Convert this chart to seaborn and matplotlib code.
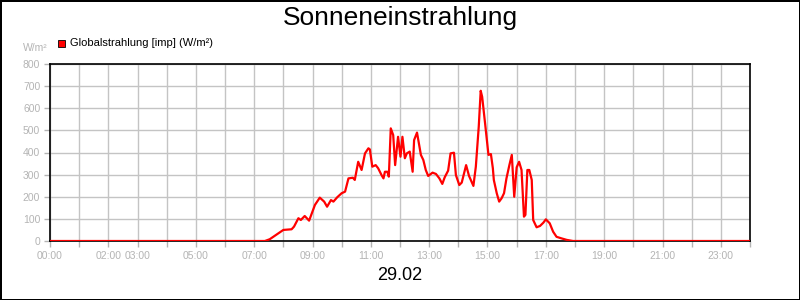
import matplotlib
matplotlib.use("Agg")
import matplotlib.pyplot as plt
import seaborn as sns
import pandas as pd
from matplotlib.patches import Rectangle

times = ["00:00", "07:22", "07:32", "08:00", "08:17", "08:22", "08:31", "08:36", "08:44", "08:53",
         "09:05", "09:15", "09:24", "09:30", "09:38", "09:43", "09:51", "10:00", "10:07", "10:14",
         "10:23", "10:27", "10:34", "10:41", "10:48", "10:55", "10:58", "11:03", "11:10", "11:15",
         "11:22", "11:26", "11:29", "11:34", "11:37", "11:41", "11:46", "11:50", "11:56", "12:01",
         "12:05", "12:10", "12:14", "12:20", "12:26", "12:29", "12:35", "12:43", "12:48", "12:53",
         "12:58", "13:07", "13:14", "13:21", "13:27", "13:32", "13:39", "13:44", "13:51", "13:55",
         "14:02", "14:07", "14:16", "14:22", "14:31", "14:36", "14:42", "14:46", "14:49", "14:55",
         "15:02", "15:07", "15:11", "15:13", "15:19", "15:24", "15:29", "15:34", "15:39", "15:45",
         "15:50", "15:55", "16:00", "16:05", "16:10", "16:15", "16:18", "16:22", "16:26", "16:31",
         "16:34", "16:41", "16:48", "16:55", "17:00", "17:08", "17:15", "17:22", "17:32", "17:43",
         "17:56", "24:00"]
globalstrahlung = [0, 0, 8, 50, 53, 65, 103, 95, 113, 92,
                   163, 196, 178, 155, 185, 178, 198, 216, 223, 283,
                   286, 276, 358, 321, 396, 419, 414, 336, 343, 329,
                   298, 283, 313, 313, 291, 509, 479, 343, 471, 381,
                   471, 374, 396, 404, 313, 456, 490, 389, 366, 321,
                   294, 309, 303, 283, 258, 288, 318, 396, 399, 298,
                   253, 264, 343, 294, 249, 336, 517, 679, 652, 532,
                   389, 393, 329, 276, 216, 178, 193, 216, 283, 343,
                   389, 200, 333, 358, 321, 110, 118, 321, 321, 276,
                   95, 62, 68, 83, 98, 80, 42, 19, 12, 5,
                   0, 0]
tick_hours = list(range(0, 25))
tick_labels = ["00:00", "", "02:00", "03:00", "", "05:00", "", "07:00", "", "09:00", "",
               "11:00", "", "13:00", "", "15:00", "", "17:00", "", "19:00", "", "21:00", "",
               "23:00", ""]
y_ticks = [0, 100, 200, 300, 400, 500, 600, 700, 800]

def to_hours(t):
    h, m = t.split(":")
    return int(h) + int(m) / 60.0

df = pd.DataFrame({"Zeit": [to_hours(t) for t in times], "Wert": globalstrahlung})

sns.set_style("white")
plt.rcParams["font.family"] = ["Liberation Sans", "DejaVu Sans"]

fig = plt.figure(figsize=(8, 3), dpi=100, linewidth=2, edgecolor="black")
ax = fig.add_axes([50 / 800, 1 - 241 / 300, 700 / 800, 177 / 300])

grey = "#b4b4b4"
ax.set_xticks(tick_hours)
ax.set_xticklabels(tick_labels)
ax.set_yticks(y_ticks)
ax.set_xlim(0, 24)
ax.set_ylim(0, 800)
ax.grid(True, color="#c4c4c4", linewidth=1)
ax.set_axisbelow(True)

sns.lineplot(data=df, x="Zeit", y="Wert", ax=ax, color="#ff0000", linewidth=1.6, zorder=3)
ax.set_xlabel("")
ax.set_ylabel("")

for s in ax.spines.values():
    s.set_color("black")
    s.set_linewidth(1.2)

ax.tick_params(axis="both", which="both", direction="out", length=4, width=1,
               color=grey, labelcolor=grey, labelsize=7.5, pad=3, bottom=True, left=True)

fig.text(0.5, 1 - 18 / 300, "Sonneneinstrahlung", ha="center", va="center", fontsize=19, color="black")
fig.text(0.5, 1 - 275 / 300, "29.02", ha="center", va="center", fontsize=13, color="black")
fig.text(48 / 800, 1 - 48 / 300, "W/m²", ha="right", va="center", fontsize=7.5, color=grey)

fig.patches.append(Rectangle((58 / 800, 1 - 47 / 300), 7 / 800, 7 / 300, transform=fig.transFigure,
                             facecolor="#ff0000", edgecolor="black", linewidth=0.6))
fig.text(70 / 800, 1 - 43.5 / 300, "Globalstrahlung [imp] (W/m²)", ha="left", va="center",
         fontsize=8, color="black")

fig.savefig("out.png", dpi=100, edgecolor=fig.get_edgecolor())
